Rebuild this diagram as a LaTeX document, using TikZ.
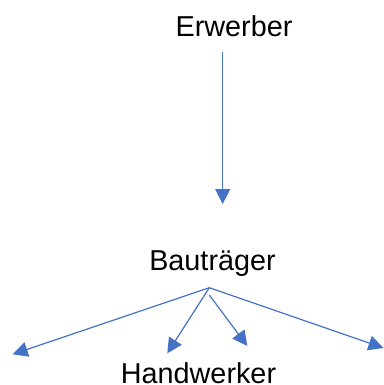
\documentclass[tikz,border=0pt]{standalone}
\usepackage{fontspec}
\setmainfont{Liberation Sans}
\usetikzlibrary{arrows.meta}
\definecolor{officeblue}{HTML}{4472C4}
\begin{document}
\begin{tikzpicture}[x=1pt,y=-1pt,
  lbl/.style={anchor=base,inner sep=0pt,font=\fontsize{28.8}{34}\selectfont},
  arr/.style={draw=officeblue,line width=1.2pt,-{Triangle[length=15pt,width=15pt]}}]
\useasboundingbox (0,0) rectangle (383,385);
\node[lbl] (erw) at (234,37) {Erwerber};
\node[lbl] (bau) at (212.5,270) {Bauträger};
\node[lbl] (hand) at (198.5,383) {Handwerker};
\coordinate (s0) at (222.7,52.3);
\coordinate (t0) at (222.7,204);
\coordinate (apex) at (209.3,287.7);
\coordinate (apex2) at (209.3,295);
\coordinate (tl) at (12.7,354.3);
\coordinate (tml) at (167.3,353.3);
\coordinate (tmr) at (247.3,346);
\coordinate (tr) at (383.5,348);
\draw[arr] (s0) -- (t0);
\draw[arr] (apex) -- (tl);
\draw[arr] (apex) -- (tml);
\draw[arr] (apex2) -- (tmr);
\draw[arr] (apex) -- (tr);
\end{tikzpicture}
\end{document}
